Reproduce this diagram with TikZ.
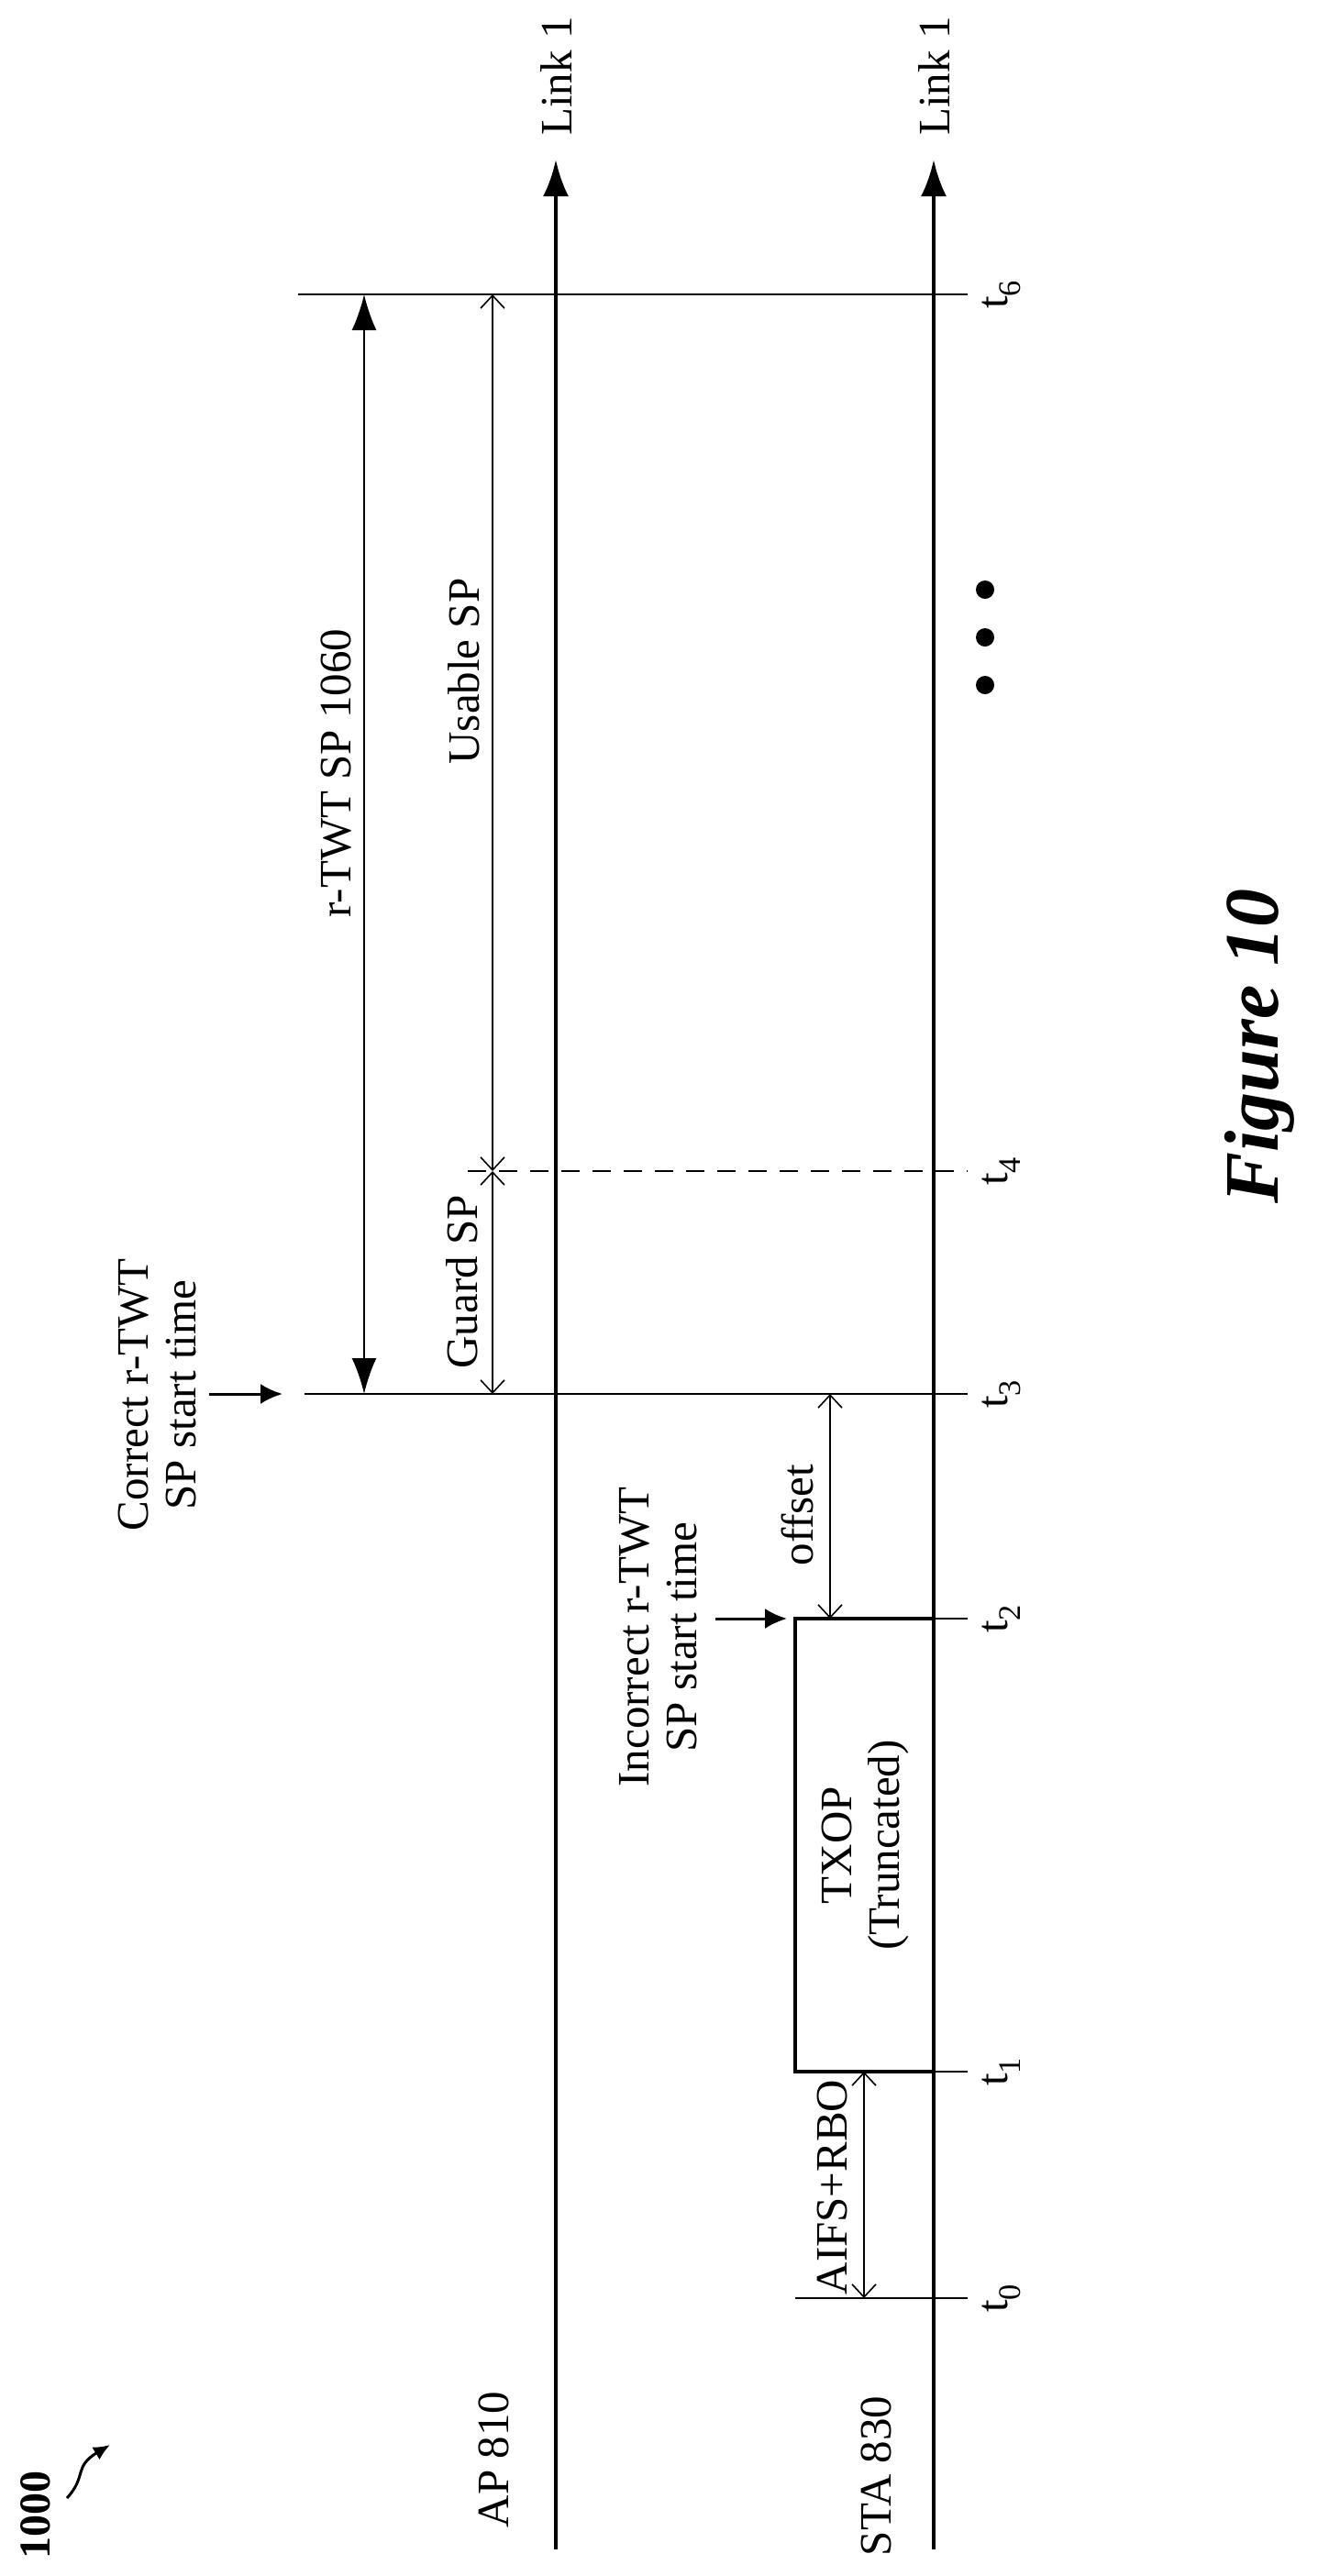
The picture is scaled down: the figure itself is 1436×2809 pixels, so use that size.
\documentclass[tikz,border=0pt]{standalone}
\usepackage{fontspec}
\setmainfont{Liberation Serif}
\usetikzlibrary{arrows.meta}
\begin{document}
\begin{tikzpicture}[x=1pt,y=-1pt,
  lbl/.style={inner sep=0pt,rotate=90,font=\fontsize{49}{52}\selectfont,align=center},
  tl/.style={inner sep=0pt,rotate=90,font=\fontsize{49}{52}\selectfont},
  axis/.style={line width=4.5pt,-{Latex[length=40pt,width=28pt]}},
  tline/.style={line width=2.6pt},
  dim/.style={line width=1.6pt,{Straight Barb[length=14pt,width=26pt]}-{Straight Barb[length=14pt,width=26pt]}},
  big/.style={line width=2pt,{Latex[length=39pt,width=27pt]}-{Latex[length=39pt,width=27pt]}},
  ptr/.style={line width=3pt,-{Latex[length=24pt,width=22pt]}}]
\useasboundingbox (0,0) rectangle (1436,2809);
% axes
\coordinate (apb) at (606,2780); \coordinate (apt) at (606,174);
\coordinate (stb) at (1018,2780); \coordinate (stt) at (1018,174);
\draw[axis] (apb) -- (apt);
\draw[axis] (stb) -- (stt);
\node[tl] (l1a) at (606,83) {Link 1};
\node[tl] (l1s) at (1018,83) {Link 1};
\node[lbl] (ap) at (538,2682) {AP 810};
\node[lbl] (sta) at (955,2700) {STA 830};
% time lines
\coordinate (t6a) at (325,321); \coordinate (t6b) at (1055,321);
\coordinate (t4a) at (510,1277); \coordinate (t4b) at (1055,1277);
\coordinate (t3a) at (332,1520); \coordinate (t3b) at (1055,1520);
\coordinate (t2a) at (867,1765); \coordinate (t2b) at (1055,1765);
\coordinate (t1a) at (867,2259); \coordinate (t1b) at (1055,2259);
\coordinate (t0a) at (867,2506); \coordinate (t0b) at (1055,2506);
\draw[tline] (t6a) -- (t6b);
\draw[tline,dash pattern=on 20pt off 14pt] (t4a) -- (t4b);
\draw[tline] (t3a) -- (t3b);
\draw[tline] (t2a) -- (t2b);
\draw[tline] (t1a) -- (t1b);
\draw[line width=1.8pt] (t0a) -- (t0b);
\node[tl] (lt6) at (1092,321) {t\textsubscript{6}};
\node[tl] (lt4) at (1092,1277) {t\textsubscript{4}};
\node[tl] (lt3) at (1092,1520) {t\textsubscript{3}};
\node[tl] (lt2) at (1092,1765) {t\textsubscript{2}};
\node[tl] (lt1) at (1092,2259) {t\textsubscript{1}};
\node[tl] (lt0) at (1092,2506) {t\textsubscript{0}};
% TXOP box
\draw[line width=4.5pt] (1018,2259) -- (867,2259) -- (867,1765) -- (1018,1765);
\node[lbl] (txop) at (943,2012) {TXOP\\(Truncated)};
% dimension arrows
\coordinate (r6) at (397,321); \coordinate (r3) at (397,1520);
\draw[big] (r3) -- (r6);
\node[lbl] (rtwt) at (367,843) {r-TWT SP 1060};
\coordinate (u6) at (537,321); \coordinate (u4) at (537,1277); \coordinate (u3) at (537,1520);
\draw[dim] (u4) -- (u6);
\node[lbl] (usable) at (506,732) {Usable SP};
\draw[dim] (u3) -- (u4);
\node[lbl] (guard) at (504,1398) {Guard SP};
\coordinate (o3) at (905,1520); \coordinate (o2) at (905,1765);
\draw[dim] (o3) -- (o2);
\node[lbl] (offset) at (869,1652) {offset};
\coordinate (a1) at (942,2259); \coordinate (a0) at (942,2506);
\draw[dim] (a1) -- (a0);
\node[lbl] (aifs) at (908,2385) {AIFS+RBO};
% pointers
\node[lbl] (correct) at (172,1521) {Correct r-TWT\\SP start time};
\coordinate (c0) at (228,1520); \coordinate (c1) at (308,1520);
\draw[ptr] (c0) -- (c1);
\node[lbl] (incorrect) at (718,1785) {Incorrect r-TWT\\SP start time};
\coordinate (i0) at (780,1765); \coordinate (i1) at (858,1765);
\draw[ptr] (i0) -- (i1);
% dots
\fill (1074,643) circle (10pt);
\fill (1074,695) circle (10pt);
\fill (1074,747) circle (10pt);
% figure label
\node[tl,font=\fontsize{84}{90}\selectfont\bfseries\itshape] (fig) at (1373,1141) {Figure 10};
\node[tl,font=\fontsize{48}{52}\selectfont\bfseries] (num) at (39,2742) {1000};
\coordinate (s0) at (73,2724); \coordinate (s1) at (120,2666);
\draw[line width=3pt,-{Latex[length=18pt,width=16pt]}] (s0) .. controls (95,2700) and (80,2690) .. (s1);
\end{tikzpicture}
\end{document}
